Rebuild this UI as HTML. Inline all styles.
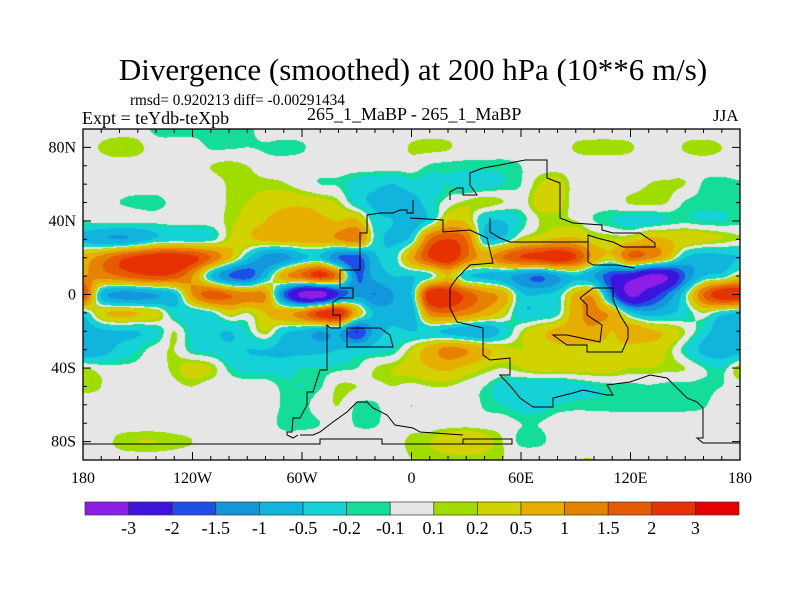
<!DOCTYPE html>
<html><head><meta charset="utf-8"><style>
body{margin:0;background:#fff;width:800px;height:600px;overflow:hidden;position:relative;font-family:"Liberation Serif",serif;}
.t{position:absolute;white-space:nowrap;color:#000;}
</style></head><body>
<div class="t" style="left:0;width:826px;text-align:center;top:52px;font-size:31px;">Divergence (smoothed) at 200 hPa (10**6 m/s)</div>
<div class="t" style="left:130px;top:92px;font-size:16px;transform:scaleX(0.95);transform-origin:left;">rmsd= 0.920213 diff= -0.00291434</div>
<div class="t" style="left:82px;top:108px;font-size:18px;">Expt = teYdb-teXpb</div>
<div class="t" style="left:307px;top:104px;font-size:18px;">265_1_MaBP - 265_1_MaBP</div>
<div class="t" style="left:713px;top:106px;font-size:17px;">JJA</div>
<canvas id="cv" width="657" height="331" style="position:absolute;left:83px;top:129px;"></canvas>
<svg id="sv" width="800" height="600" style="position:absolute;left:0;top:0;"></svg>
<script>
const lons=[-180,-170,-160,-150,-140,-130,-120,-110,-100,-90,-80,-70,-60,-50,-40,-30,-20,-10,0,10,20,30,40,50,60,70,80,90,100,110,120,130,140,150,160,170,180];
const lats=[90,80,70,60,50,40,30,20,10,0,-10,-20,-30,-40,-50,-60,-70,-80,-90];
const lat90=[0,0,0,0,-.15,-.18,-.18,-.18,-.18,-.15,0,0,0,0,0,0,0,0,0,0,0,0,0,0,0,0,0,0,0,0,0,0,0,0,0,0,0];
const lat80=[0,.12,.2,.15,0,0,0,-.12,-.12,-.1,-.12,-.15,-.12,0,0,0,0,0,.12,.15,.12,0,0,0,0,0,0,.12,.15,.15,.12,0,0,.12,.15,.1,0];
const lat70=[0,0,0,0,0,0,0,.1,.15,.1,0,0,0,0,0,0,0,0,0,-.12,-.15,-.15,-.15,-.15,-.1,0,0,0,0,0,0,0,0,0,0,0,0];
const lat60=[0,0,0,0,0,0,0,0,.12,.15,.15,.12,0,-.1,-.12,-.3,-.4,-.5,-.3,-.3,-.2,-.3,-.3,-.2,-.1,.2,.3,0,0,0,0,.1,.12,.1,-.12,-.15,-.12];
const lat50=[0,0,-.1,-.15,-.15,-.05,0,0,.12,.2,.3,.4,.4,.3,.15,-.3,-.6,-.8,-.7,-.3,0,.15,.2,.1,0,.3,.3,0,0,0,.12,.15,.1,-.12,-.15,-.15,-.15];
const lat40=[-.1,0,0,-.05,-.05,0,0,0,.15,.3,.5,.7,.8,.6,.5,.6,-.3,-.5,-.8,-.3,.5,.4,-.4,-.5,-.2,.1,.15,.1,-.1,-.2,-.3,-.3,-.2,-.15,-.2,-.2,-.15];
const lat30=[-.6,-.9,-1,-.8,-.4,-.3,-.3,-.2,.2,.4,.6,.7,.7,.7,1.0,1.3,-.2,-.6,-.3,1.5,2,1.5,-.4,-.4,.2,.4,.6,.6,.3,.2,.3,.6,.5,.4,.3,.2,.1];
const lat20=[.7,1.2,1.8,2.2,2.5,2.5,2.2,1.5,.6,-.4,-1.2,-1.2,-.6,-.5,-1.5,-1.8,-.6,-.3,.8,2,2.5,1.5,.8,1.5,2,2.2,2.5,2,.8,.4,1.5,1.2,.5,-.5,-.7,-.6,-.5];
const lat10=[1.0,1.2,1.5,1.8,2,1.8,1.0,-.5,-1.5,-1.8,-.6,.8,1.5,2.2,1.2,-1.5,-.8,-.5,-.5,-.2,.5,-.4,-.6,-.8,-1.2,-1.5,-1,-.5,-1,-2,-2.5,-3.2,-3,-1.5,-.5,-.3,.3];
const lat0=[2,-.6,-1.2,-1.2,-1,-.6,1,1.8,1.5,1.2,1,-1.5,-3.3,-3.5,-2,-1.2,-1.5,-1,-.5,2.5,2.5,1.8,1.2,.8,-.4,-.5,-.3,.6,.8,-1.5,-3.2,-2.5,-1.5,-.2,1.5,2.5,2.5];
const latS10=[-.3,.4,.6,.5,.3,-.3,-.4,-.2,.3,.1,.5,.8,1.2,2.2,2.5,.6,-.6,-.8,-.8,1.2,1.5,1.2,.8,.3,-.4,-.4,-.2,.8,1.1,.8,-.4,-.8,-.6,-.3,.1,-.3,-.5];
const latS20=[-.8,-.6,-.5,-.5,-.3,.1,-.3,-.4,-.5,-.2,.2,-.4,-.6,-1,-.8,-2,-.8,-.4,-.5,-.4,-.6,-.8,-.9,-.4,.1,.4,.6,.8,.9,.5,.8,.6,.4,.1,-.3,-.8,-1];
const latS30=[-.9,-.7,-.4,-.2,0,.1,-.2,-.3,-.4,-.5,-.5,-.6,-.6,-.6,-.5,-.4,-.3,-.2,.2,.7,1.2,1.0,.6,.3,.2,.3,.4,.4,.3,.4,.3,.3,.2,-.2,-.6,-.8,-.7];
const latS40=[.12,0,-.05,-.05,0,.15,.3,.2,-.15,-.3,-.3,-.3,-.2,-.2,-.15,-.1,.1,.2,.3,.5,.6,.4,.2,.1,.2,.3,.3,.3,.3,.3,.2,.2,.15,.1,-.1,-.2,.2];
const latS50=[.15,.1,0,0,0,.05,.1,0,0,0,0,-.15,-.2,-.12,.12,.1,.05,.1,.05,.1,.1,0,-.1,-.3,-.4,-.4,-.4,-.3,-.2,-.15,-.15,-.12,-.15,-.15,-.15,-.1,0];
const latS60=[0,0,0,0,0,0,0,0,0,0,0,-.12,-.15,0,.1,-.12,-.12,0,-.1,0,0,0,-.12,-.2,-.3,-.3,-.2,-.15,-.15,-.15,-.15,-.15,-.15,-.15,-.12,0,0];
const latS70=[0,0,0,0,0,0,0,0,0,0,0,-.15,-.15,-.1,0,-.12,-.12,0,0,0,0,0,0,0,-.1,-.1,0,0,0,0,0,0,0,0,0,0,0];
const latS80=[0,0,.15,.2,.2,.15,.1,0,0,0,0,0,0,0,0,0,0,0,.15,.2,.4,.5,.3,.1,-.15,-.15,0,0,0,0,0,0,0,0,0,0,0];
const latS90=[0,0,0,0,0,0,0,0,0,0,0,0,0,0,0,0,0,0,.1,.1,.1,.1,.1,.1,.1,.1,.1,.1,.1,0,0,0,0,0,0,0,0];
const values=[lat90,lat80,lat70,lat60,lat50,lat40,lat30,lat20,lat10,lat0,latS10,latS20,latS30,latS40,latS50,latS60,latS70,latS80,latS90];
const levels=[-3,-2,-1.5,-1,-0.5,-0.2,-0.1,0.1,0.2,0.5,1,1.5,2,3];
const colors=['#8c1ee6','#3c14dc','#1e4ee6','#1496dc','#10b4dc','#14d2d6','#14dc9a','#e6e6e6','#a0dc00','#d2d200','#e6af00','#e68200','#e65a00','#e63200','#e60000'];

const X0=83,X1=740,Y0=129,Y1=460;
const xOf=lon=>X0+(lon+180)/360*(X1-X0);
const yOf=lat=>Y0+(90-lat)/180*(Y1-Y0);
function hex(c){return [parseInt(c.substr(1,2),16),parseInt(c.substr(3,2),16),parseInt(c.substr(5,2),16)];}
const rgb=colors.map(hex);
function bin(v){let i=0;while(i<levels.length&&v>=levels[i])i++;return i;}
function cr(p0,p1,p2,p3,t){return 0.5*((2*p1)+(-p0+p2)*t+(2*p0-5*p1+4*p2-p3)*t*t+(-p0+3*p1-3*p2+p3)*t*t*t);}
function g(j,i){j=Math.min(Math.max(j,0),lats.length-1);i=Math.min(Math.max(i,0),lons.length-1);return values[j][i];}
function sample(lon,lat){
  const fi=(lon-lons[0])/(lons[1]-lons[0]), fj=(lats[0]-lat)/(lats[0]-lats[1]);
  const i=Math.min(Math.floor(fi),lons.length-2), j=Math.min(Math.floor(fj),lats.length-2);
  const u=fi-i, w=fj-j, r=[];
  for(let k=-1;k<=2;k++) r.push(cr(g(j+k,i-1),g(j+k,i),g(j+k,i+1),g(j+k,i+2),u));
  return cr(r[0],r[1],r[2],r[3],w);
}
const cv=document.getElementById('cv'),ctx=cv.getContext('2d');
const W=cv.width,H=cv.height,img=ctx.createImageData(W,H);
for(let py=0;py<H;py++){for(let px=0;px<W;px++){
  const lon=-180+(px+0.5)/W*360, lat=90-(py+0.5)/H*180;
  const c=rgb[bin(sample(lon,lat))],k=(py*W+px)*4;
  img.data[k]=c[0];img.data[k+1]=c[1];img.data[k+2]=c[2];img.data[k+3]=255;}}
ctx.putImageData(img,0,0);

const NS='http://www.w3.org/2000/svg',sv=document.getElementById('sv');
function mk(tag,attrs,parent){const e=document.createElementNS(NS,tag);for(const k in attrs)e.setAttribute(k,attrs[k]);(parent||sv).appendChild(e);return e;}
const coasts=[
 [[413,200],[413,213],[407,213],[407,210],[400,210],[393,213],[380,213],[367,215],[367,233],[360,233],[360,270],[340,270],[340,288],[353,288],[353,298],[340,298],[333,302],[333,315],[340,315],[340,328],[330,328],[327,325],[327,370],[320,370],[313,392],[307,392],[307,405],[300,418],[293,418],[292,432],[287,432],[287,435],[293,438],[298,435]],
 [[347,328],[380,328],[390,335],[393,347],[347,347],[347,328]],
 [[410,218],[443,220],[443,232],[470,230],[487,238],[493,263],[470,265],[457,278],[450,288],[450,308],[457,322],[483,328],[483,355],[490,360],[510,358],[510,375],[500,375],[512,388],[520,398],[533,407],[553,407],[553,398],[573,393],[583,390],[607,395],[613,395],[607,385],[630,382],[650,375],[667,378],[687,398],[697,402],[703,408],[703,438],[697,438],[703,443],[740,443]],
 [[450,200],[450,192],[457,188],[463,188],[463,195],[477,195],[470,185],[470,173],[483,168],[500,165],[525,160],[547,160],[547,178],[560,183],[560,218],[573,223],[602,225],[602,230],[613,233],[640,233],[655,243],[655,247],[623,247],[613,242],[597,238],[588,235],[588,262],[593,265],[617,265],[635,268]],
 [[490,218],[490,232],[500,238],[510,242],[540,242],[560,242],[588,242]],
 [[580,298],[593,288],[613,288],[613,300],[620,315],[628,328],[628,338],[622,352],[587,352],[587,345],[567,345],[553,335],[567,335],[600,342],[602,325],[587,315],[587,305],[580,298]],
 [[83,444],[320,444],[320,439],[382,439],[382,444],[463,444],[463,439],[512,439],[512,444],[410,444]],
 [[300,435],[313,435],[320,432],[333,422],[347,412],[357,402],[367,402],[373,408],[387,415],[395,425],[413,428],[420,432],[463,435]]
];
coasts.forEach(pts=>{const p=mk('polyline',{points:pts.map(q=>q.join(',')).join(' '),fill:'none',stroke:'#000','stroke-width':1});

});
const fr=mk('rect',{x:X0,y:Y0,width:X1-X0,height:Y1-Y0,fill:'none',stroke:'#000','stroke-width':1.3});


for(let lon=-180;lon<=180;lon+=10){const x=xOf(lon),L=(lon%60===0)?8:4;
 mk('line',{x1:x,y1:Y1,x2:x,y2:Y1-L,stroke:'#000'});mk('line',{x1:x,y1:Y0,x2:x,y2:Y0+L,stroke:'#000'});}
for(let lat=-90;lat<=90;lat+=10){const y=yOf(lat),L=(lat%40===0&&Math.abs(lat)<90)?8:4;
 mk('line',{x1:X0,y1:y,x2:X0+L,y2:y,stroke:'#000'});mk('line',{x1:X1,y1:y,x2:X1-L,y2:y,stroke:'#000'});}
const lonTicks=[-180,-120,-60,0,60,120,180],lonLabels=['180','120W','60W','0','60E','120E','180'];
lonTicks.forEach((l,i)=>{const t=mk('text',{x:xOf(l),y:483,'text-anchor':'middle','font-size':16,'font-family':'Liberation Serif, serif'});t.textContent=lonLabels[i];

});
const latTicks=[80,40,0,-40,-80],latLabels=['80N','40N','0','40S','80S'];
latTicks.forEach((l,i)=>{const t=mk('text',{x:76,y:yOf(l)+5,'text-anchor':'end','font-size':16,'font-family':'Liberation Serif, serif'});t.textContent=latLabels[i];

});
const CB0=85,CB1=739,bw=(CB1-CB0)/colors.length;
colors.forEach((c,i)=>{const r=mk('rect',{x:CB0+i*bw,y:502,width:bw,height:13,fill:c,stroke:'#333','stroke-width':0.7});

});
levels.forEach((v,i)=>{const t=mk('text',{x:CB0+(i+1)*bw,y:534,'text-anchor':'middle','font-size':18,'font-family':'Liberation Serif, serif'});t.textContent=String(v);

});
</script>
</body></html>
